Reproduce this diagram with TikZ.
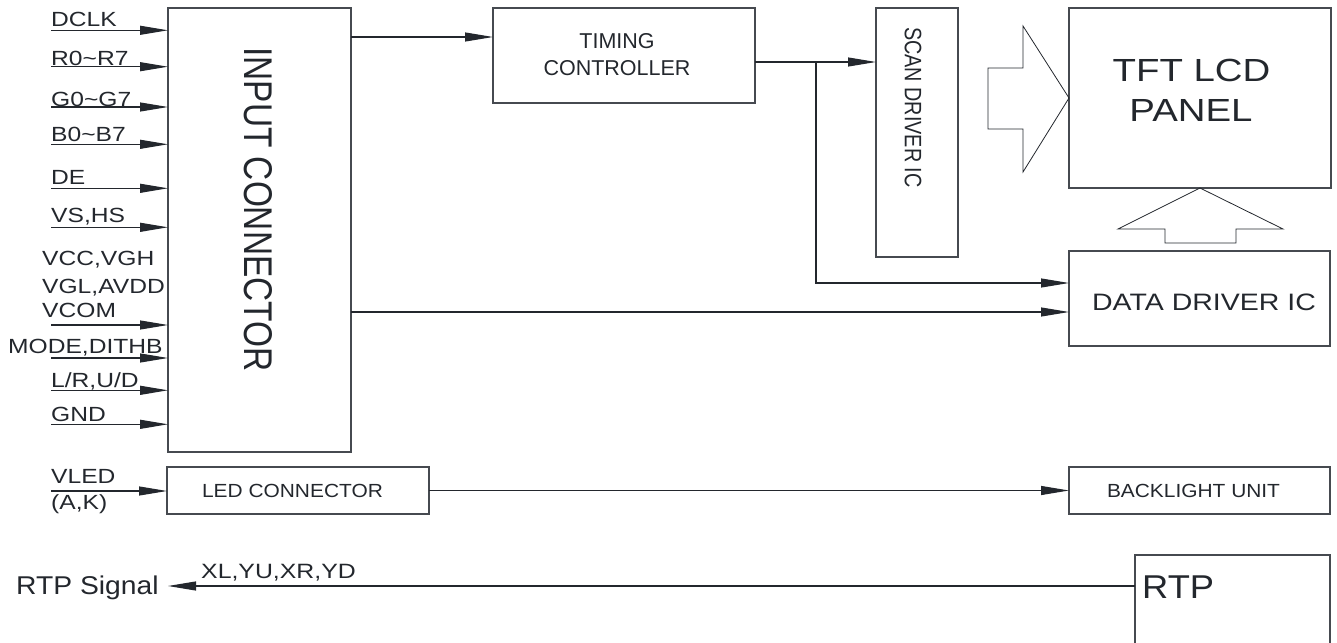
\documentclass[tikz,border=0pt]{standalone}
\usepackage{fontspec}
\setmainfont{Liberation Sans}
\newfontfamily\fA{Liberation Sans}[FakeStretch=1.2]
\newfontfamily\fB{Liberation Sans}[FakeStretch=1.1]
\newfontfamily\fC{Liberation Sans}
\usetikzlibrary{arrows.meta}
\definecolor{ink}{RGB}{35,39,45}
\definecolor{edge}{RGB}{70,74,80}
\newcommand{\myfs}[1]{\fontsize{#1}{#1}\selectfont}
\begin{document}
\begin{tikzpicture}[x=1pt,y=-1pt,
  box/.style={draw=edge, line width=1.3pt, rectangle, inner sep=0pt, outer sep=0pt},
  arr/.style={draw=ink, line width=1.1pt, -{Triangle[length=28pt,width=9pt,fill=ink]}},
  bigarrow/.style={draw=ink, line width=0.8pt},
  lbl/.style={anchor=base west, inner sep=0pt, text=ink, font=\fA\myfs{20.5}},
  txt/.style={inner sep=0pt, text=ink}]
\clip (0,0) rectangle (1337,642);
\useasboundingbox (0,0) rectangle (1337,642);

% boxes
\node[box, minimum width=183, minimum height=444] (inp) at (259.5,230) {};
\node[box, minimum width=262, minimum height=95] (tim) at (624,55.5) {};
\node[box, minimum width=82, minimum height=249] (scan) at (917,132.5) {};
\node[box, minimum width=262, minimum height=180] (tft) at (1200,98) {};
\node[box, minimum width=261, minimum height=95] (dd) at (1199.5,298.5) {};
\node[box, minimum width=262, minimum height=47] (led) at (298,490.5) {};
\node[box, minimum width=261, minimum height=47] (bl) at (1199.5,490.5) {};
\node[box, minimum width=195, minimum height=95] (rtp) at (1232.5,602.5) {};

% box texts
\node[txt, rotate=-90, font=\fC\myfs{33.4}] (tinp) at (258,209.5) {\scalebox{1}[1.2]{INPUT CONNECTOR}};
\node[txt, rotate=-90, font=\fC\myfs{19.8}] (tscan) at (913,107.5) {\scalebox{1}[1.2]{SCAN DRIVER IC}};
\node[txt, anchor=base, font=\fC\myfs{21.5}] (ttim1) at (617,48.3) {TIMING};
\node[txt, anchor=base, font=\fC\myfs{21.5}] (ttim2) at (617,75) {CONTROLLER};
\node[txt, anchor=base, font=\fA\myfs{32}] (ttft1) at (1191.5,81.7) {TFT LCD};
\node[txt, anchor=base, font=\fA\myfs{32}] (ttft2) at (1191,121.7) {PANEL};
\node[txt, anchor=base, font=\fA\myfs{23.75}] (tdd) at (1204,310) {DATA DRIVER IC};
\node[txt, anchor=base, font=\fB\myfs{19}] (tled) at (292.5,497.7) {LED CONNECTOR};
\node[txt, anchor=base, font=\fB\myfs{19}] (tbl) at (1193.5,497.3) {BACKLIGHT UNIT};
\node[txt, anchor=base west, font=\fB\myfs{33}] (trtp) at (1142,598) {RTP};

% input signal labels
\node[lbl] (l1) at (51,26.7) {DCLK};
\node[lbl] (l2) at (51,65) {R0\textasciitilde R7};
\node[lbl] (l3) at (51,106) {G0\textasciitilde G7};
\node[lbl] (l4) at (51,141) {B0\textasciitilde B7};
\node[lbl] (l5) at (51,184) {DE};
\node[lbl] (l6) at (51,222) {VS,HS};
\node[lbl] (l7a) at (42,265) {VCC,VGH};
\node[lbl] (l7b) at (42,293) {VGL,AVDD};
\node[lbl] (l7c) at (42,317) {VCOM};
\node[lbl] (l8) at (8,353) {MODE,DITHB};
\node[lbl] (l9) at (51,387) {L/R,U/D};
\node[lbl] (l10) at (51,421) {GND};
\node[lbl] (lv1) at (51,483) {VLED};
\node[lbl] (lv2) at (51,509) {(A,K)};
\node[txt, anchor=base west, font=\fB\myfs{25.7}] (rsig) at (16,594) {RTP Signal};
\node[lbl, font=\fA\myfs{20.7}] (lxy) at (201,578) {XL,YU,XR,YD};

% input arrows
\foreach \n/\yy in {1/30.3,2/66.7,3/107,4/144.3,5/188.3,6/227.3,7/325,8/358,9/390.3,10/424.3}{
  \coordinate (s\n) at (51,\yy);
  \draw[arr] (s\n) -- (s\n -| inp.west);
}
\coordinate (sv) at (51,491);
\draw[arr] (sv) -- (sv -| led.west);

% main connectors
\coordinate (c1) at (0,37);
\draw[arr] (inp.east |- c1) -- (tim.west |- c1);
\coordinate (c2) at (0,62);
\coordinate (j) at (816,62);
\draw[arr] (tim.east |- c2) -- (scan.west |- c2);
\coordinate (c3) at (0,283);
\draw[arr] (j) -- (j |- c3) -- (dd.west |- c3);
\coordinate (c4) at (0,312);
\draw[arr] (inp.east |- c4) -- (dd.west |- c4);
\draw[arr] (led.east) -- (bl.west);
\coordinate (c5) at (0,586);
\coordinate (rs) at (168,586);
\draw[arr] (rtp.west |- c5) -- (rs);

% big block arrows
\draw[bigarrow] (988,68) -- (1023,68) -- (1023,26) -- (tft.west |- 0,98) -- (1023,172) -- (1023,129) -- (988,129) -- cycle;
\draw[bigarrow] (1165,243) -- (1165,229) -- (1118,229) -- (tft.south) -- (1283,229) -- (1236,229) -- (1236,243) -- cycle;
\end{tikzpicture}
\end{document}
